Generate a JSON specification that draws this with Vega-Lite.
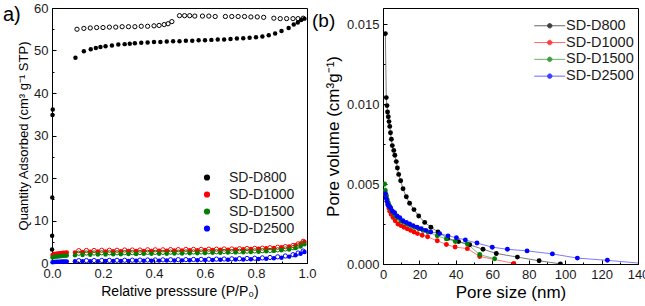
{
  "$schema": "https://vega.github.io/schema/vega-lite/v6.json",
  "padding": {"left": 2, "top": 1, "right": 0, "bottom": 0},
  "bounds": "flush",
  "spacing": 76,
  "config": {
    "font": "Liberation Sans",
    "view": {"stroke": "black", "strokeWidth": 1},
    "axis": {
      "grid": false,
      "domainColor": "black",
      "domainWidth": 1,
      "tickColor": "black",
      "tickWidth": 1,
      "tickSize": -4,
      "labelPadding": 8,
      "labelFlush": false,
      "labelOverlap": false,
      "labelColor": "#1a1a1a",
      "labelFontSize": 13,
      "titleColor": "black",
      "titleFontWeight": "normal"
    },
    "legend": {"labelColor": "#1a1a1a", "padding": 0}
  },
  "resolve": {"scale": {"color": "independent"}, "legend": {"color": "independent"}},
  "datasets": {
    "iso": [
      {"s": "SD-D800", "b": "ads", "p": 0.0002, "q": 3.2},
      {"s": "SD-D800", "b": "ads", "p": 0.0005, "q": 6.4},
      {"s": "SD-D800", "b": "ads", "p": 0.001, "q": 15.4},
      {"s": "SD-D800", "b": "ads", "p": 0.002, "q": 34.8},
      {"s": "SD-D800", "b": "ads", "p": 0.003, "q": 36.1},
      {"s": "SD-D800", "b": "ads", "p": 0.092, "q": 48.3},
      {"s": "SD-D800", "b": "ads", "p": 0.125, "q": 49.8},
      {"s": "SD-D800", "b": "ads", "p": 0.152, "q": 50.3},
      {"s": "SD-D800", "b": "ads", "p": 0.172, "q": 50.6},
      {"s": "SD-D800", "b": "ads", "p": 0.19, "q": 50.8},
      {"s": "SD-D800", "b": "ads", "p": 0.21, "q": 51.0},
      {"s": "SD-D800", "b": "ads", "p": 0.235, "q": 51.2},
      {"s": "SD-D800", "b": "ads", "p": 0.26, "q": 51.4},
      {"s": "SD-D800", "b": "ads", "p": 0.285, "q": 51.5},
      {"s": "SD-D800", "b": "ads", "p": 0.305, "q": 51.6},
      {"s": "SD-D800", "b": "ads", "p": 0.325, "q": 51.7},
      {"s": "SD-D800", "b": "ads", "p": 0.35, "q": 51.8},
      {"s": "SD-D800", "b": "ads", "p": 0.375, "q": 51.9},
      {"s": "SD-D800", "b": "ads", "p": 0.4, "q": 52.0},
      {"s": "SD-D800", "b": "ads", "p": 0.425, "q": 52.0},
      {"s": "SD-D800", "b": "ads", "p": 0.45, "q": 52.1},
      {"s": "SD-D800", "b": "ads", "p": 0.475, "q": 52.2},
      {"s": "SD-D800", "b": "ads", "p": 0.5, "q": 52.2},
      {"s": "SD-D800", "b": "ads", "p": 0.525, "q": 52.3},
      {"s": "SD-D800", "b": "ads", "p": 0.55, "q": 52.3},
      {"s": "SD-D800", "b": "ads", "p": 0.575, "q": 52.4},
      {"s": "SD-D800", "b": "ads", "p": 0.6, "q": 52.4},
      {"s": "SD-D800", "b": "ads", "p": 0.625, "q": 52.5},
      {"s": "SD-D800", "b": "ads", "p": 0.65, "q": 52.6},
      {"s": "SD-D800", "b": "ads", "p": 0.675, "q": 52.6},
      {"s": "SD-D800", "b": "ads", "p": 0.7, "q": 52.7},
      {"s": "SD-D800", "b": "ads", "p": 0.725, "q": 52.8},
      {"s": "SD-D800", "b": "ads", "p": 0.75, "q": 52.9},
      {"s": "SD-D800", "b": "ads", "p": 0.775, "q": 53.0},
      {"s": "SD-D800", "b": "ads", "p": 0.8, "q": 53.1},
      {"s": "SD-D800", "b": "ads", "p": 0.825, "q": 53.3},
      {"s": "SD-D800", "b": "ads", "p": 0.85, "q": 53.6},
      {"s": "SD-D800", "b": "ads", "p": 0.875, "q": 54.0},
      {"s": "SD-D800", "b": "ads", "p": 0.9, "q": 54.6},
      {"s": "SD-D800", "b": "ads", "p": 0.928, "q": 55.3},
      {"s": "SD-D800", "b": "ads", "p": 0.948, "q": 56.1},
      {"s": "SD-D800", "b": "ads", "p": 0.964, "q": 56.6},
      {"s": "SD-D800", "b": "ads", "p": 0.977, "q": 57.2},
      {"s": "SD-D800", "b": "ads", "p": 0.99, "q": 57.5},
      {"s": "SD-D800", "b": "des", "p": 0.098, "q": 55.0},
      {"s": "SD-D800", "b": "des", "p": 0.125, "q": 55.2},
      {"s": "SD-D800", "b": "des", "p": 0.15, "q": 55.3},
      {"s": "SD-D800", "b": "des", "p": 0.175, "q": 55.4},
      {"s": "SD-D800", "b": "des", "p": 0.2, "q": 55.4},
      {"s": "SD-D800", "b": "des", "p": 0.225, "q": 55.5},
      {"s": "SD-D800", "b": "des", "p": 0.25, "q": 55.5},
      {"s": "SD-D800", "b": "des", "p": 0.275, "q": 55.6},
      {"s": "SD-D800", "b": "des", "p": 0.3, "q": 55.6},
      {"s": "SD-D800", "b": "des", "p": 0.325, "q": 55.6},
      {"s": "SD-D800", "b": "des", "p": 0.35, "q": 55.7},
      {"s": "SD-D800", "b": "des", "p": 0.375, "q": 55.7},
      {"s": "SD-D800", "b": "des", "p": 0.4, "q": 55.8},
      {"s": "SD-D800", "b": "des", "p": 0.42, "q": 55.9},
      {"s": "SD-D800", "b": "des", "p": 0.44, "q": 56.1},
      {"s": "SD-D800", "b": "des", "p": 0.455, "q": 56.3},
      {"s": "SD-D800", "b": "des", "p": 0.47, "q": 56.8},
      {"s": "SD-D800", "b": "des", "p": 0.5, "q": 58.2},
      {"s": "SD-D800", "b": "des", "p": 0.52, "q": 58.2},
      {"s": "SD-D800", "b": "des", "p": 0.54, "q": 58.2},
      {"s": "SD-D800", "b": "des", "p": 0.56, "q": 58.1},
      {"s": "SD-D800", "b": "des", "p": 0.59, "q": 58.1},
      {"s": "SD-D800", "b": "des", "p": 0.615, "q": 58.1},
      {"s": "SD-D800", "b": "des", "p": 0.64, "q": 58.0},
      {"s": "SD-D800", "b": "des", "p": 0.68, "q": 58.0},
      {"s": "SD-D800", "b": "des", "p": 0.705, "q": 58.0},
      {"s": "SD-D800", "b": "des", "p": 0.73, "q": 58.0},
      {"s": "SD-D800", "b": "des", "p": 0.755, "q": 58.0},
      {"s": "SD-D800", "b": "des", "p": 0.78, "q": 57.9},
      {"s": "SD-D800", "b": "des", "p": 0.805, "q": 57.9},
      {"s": "SD-D800", "b": "des", "p": 0.83, "q": 57.8},
      {"s": "SD-D800", "b": "des", "p": 0.87, "q": 57.6},
      {"s": "SD-D800", "b": "des", "p": 0.895, "q": 57.5},
      {"s": "SD-D800", "b": "des", "p": 0.92, "q": 57.5},
      {"s": "SD-D800", "b": "des", "p": 0.945, "q": 57.5},
      {"s": "SD-D800", "b": "des", "p": 0.965, "q": 57.5},
      {"s": "SD-D800", "b": "des", "p": 0.985, "q": 57.6},

      {"s": "SD-D1000", "b": "ads", "p": 0.002, "q": 1.9},
      {"s": "SD-D1000", "b": "ads", "p": 0.009, "q": 2.1},
      {"s": "SD-D1000", "b": "ads", "p": 0.016, "q": 2.2},
      {"s": "SD-D1000", "b": "ads", "p": 0.023, "q": 2.25},
      {"s": "SD-D1000", "b": "ads", "p": 0.03, "q": 2.3},
      {"s": "SD-D1000", "b": "ads", "p": 0.037, "q": 2.35},
      {"s": "SD-D1000", "b": "ads", "p": 0.044, "q": 2.4},
      {"s": "SD-D1000", "b": "ads", "p": 0.051, "q": 2.4},
      {"s": "SD-D1000", "b": "ads", "p": 0.058, "q": 2.45},
      {"s": "SD-D1000", "b": "ads", "p": 0.09, "q": 2.5},
      {"s": "SD-D1000", "b": "ads", "p": 0.12, "q": 2.6},
      {"s": "SD-D1000", "b": "ads", "p": 0.15, "q": 2.65},
      {"s": "SD-D1000", "b": "ads", "p": 0.18, "q": 2.7},
      {"s": "SD-D1000", "b": "ads", "p": 0.21, "q": 2.7},
      {"s": "SD-D1000", "b": "ads", "p": 0.24, "q": 2.75},
      {"s": "SD-D1000", "b": "ads", "p": 0.27, "q": 2.75},
      {"s": "SD-D1000", "b": "ads", "p": 0.3, "q": 2.8},
      {"s": "SD-D1000", "b": "ads", "p": 0.33, "q": 2.8},
      {"s": "SD-D1000", "b": "ads", "p": 0.36, "q": 2.85},
      {"s": "SD-D1000", "b": "ads", "p": 0.39, "q": 2.85},
      {"s": "SD-D1000", "b": "ads", "p": 0.42, "q": 2.9},
      {"s": "SD-D1000", "b": "ads", "p": 0.45, "q": 2.9},
      {"s": "SD-D1000", "b": "ads", "p": 0.48, "q": 2.95},
      {"s": "SD-D1000", "b": "ads", "p": 0.51, "q": 2.95},
      {"s": "SD-D1000", "b": "ads", "p": 0.54, "q": 3.0},
      {"s": "SD-D1000", "b": "ads", "p": 0.57, "q": 3.0},
      {"s": "SD-D1000", "b": "ads", "p": 0.6, "q": 3.05},
      {"s": "SD-D1000", "b": "ads", "p": 0.63, "q": 3.05},
      {"s": "SD-D1000", "b": "ads", "p": 0.66, "q": 3.1},
      {"s": "SD-D1000", "b": "ads", "p": 0.69, "q": 3.15},
      {"s": "SD-D1000", "b": "ads", "p": 0.72, "q": 3.2},
      {"s": "SD-D1000", "b": "ads", "p": 0.75, "q": 3.25},
      {"s": "SD-D1000", "b": "ads", "p": 0.78, "q": 3.3},
      {"s": "SD-D1000", "b": "ads", "p": 0.81, "q": 3.35},
      {"s": "SD-D1000", "b": "ads", "p": 0.84, "q": 3.45},
      {"s": "SD-D1000", "b": "ads", "p": 0.87, "q": 3.55},
      {"s": "SD-D1000", "b": "ads", "p": 0.9, "q": 3.7},
      {"s": "SD-D1000", "b": "ads", "p": 0.93, "q": 3.9},
      {"s": "SD-D1000", "b": "ads", "p": 0.955, "q": 4.2},
      {"s": "SD-D1000", "b": "ads", "p": 0.975, "q": 4.6},
      {"s": "SD-D1000", "b": "ads", "p": 0.99, "q": 5.0},
      {"s": "SD-D1000", "b": "des", "p": 0.105, "q": 2.9},
      {"s": "SD-D1000", "b": "des", "p": 0.135, "q": 2.95},
      {"s": "SD-D1000", "b": "des", "p": 0.165, "q": 2.95},
      {"s": "SD-D1000", "b": "des", "p": 0.195, "q": 3.0},
      {"s": "SD-D1000", "b": "des", "p": 0.225, "q": 3.0},
      {"s": "SD-D1000", "b": "des", "p": 0.255, "q": 3.0},
      {"s": "SD-D1000", "b": "des", "p": 0.285, "q": 3.05},
      {"s": "SD-D1000", "b": "des", "p": 0.315, "q": 3.05},
      {"s": "SD-D1000", "b": "des", "p": 0.345, "q": 3.05},
      {"s": "SD-D1000", "b": "des", "p": 0.375, "q": 3.1},
      {"s": "SD-D1000", "b": "des", "p": 0.405, "q": 3.1},
      {"s": "SD-D1000", "b": "des", "p": 0.435, "q": 3.1},
      {"s": "SD-D1000", "b": "des", "p": 0.465, "q": 3.15},
      {"s": "SD-D1000", "b": "des", "p": 0.495, "q": 3.15},
      {"s": "SD-D1000", "b": "des", "p": 0.525, "q": 3.2},
      {"s": "SD-D1000", "b": "des", "p": 0.555, "q": 3.2},
      {"s": "SD-D1000", "b": "des", "p": 0.585, "q": 3.2},
      {"s": "SD-D1000", "b": "des", "p": 0.615, "q": 3.25},
      {"s": "SD-D1000", "b": "des", "p": 0.645, "q": 3.25},
      {"s": "SD-D1000", "b": "des", "p": 0.675, "q": 3.3},
      {"s": "SD-D1000", "b": "des", "p": 0.705, "q": 3.3},
      {"s": "SD-D1000", "b": "des", "p": 0.735, "q": 3.35},
      {"s": "SD-D1000", "b": "des", "p": 0.765, "q": 3.4},
      {"s": "SD-D1000", "b": "des", "p": 0.795, "q": 3.45},
      {"s": "SD-D1000", "b": "des", "p": 0.825, "q": 3.5},
      {"s": "SD-D1000", "b": "des", "p": 0.855, "q": 3.6},
      {"s": "SD-D1000", "b": "des", "p": 0.885, "q": 3.7},
      {"s": "SD-D1000", "b": "des", "p": 0.915, "q": 3.85},
      {"s": "SD-D1000", "b": "des", "p": 0.945, "q": 4.1},
      {"s": "SD-D1000", "b": "des", "p": 0.965, "q": 4.5},
      {"s": "SD-D1000", "b": "des", "p": 0.985, "q": 5.1},

      {"s": "SD-D1500", "b": "ads", "p": 0.002, "q": 1.3},
      {"s": "SD-D1500", "b": "ads", "p": 0.009, "q": 1.45},
      {"s": "SD-D1500", "b": "ads", "p": 0.016, "q": 1.5},
      {"s": "SD-D1500", "b": "ads", "p": 0.023, "q": 1.55},
      {"s": "SD-D1500", "b": "ads", "p": 0.03, "q": 1.6},
      {"s": "SD-D1500", "b": "ads", "p": 0.037, "q": 1.65},
      {"s": "SD-D1500", "b": "ads", "p": 0.044, "q": 1.7},
      {"s": "SD-D1500", "b": "ads", "p": 0.051, "q": 1.7},
      {"s": "SD-D1500", "b": "ads", "p": 0.058, "q": 1.75},
      {"s": "SD-D1500", "b": "ads", "p": 0.09, "q": 1.8},
      {"s": "SD-D1500", "b": "ads", "p": 0.12, "q": 1.9},
      {"s": "SD-D1500", "b": "ads", "p": 0.15, "q": 1.95},
      {"s": "SD-D1500", "b": "ads", "p": 0.18, "q": 2.0},
      {"s": "SD-D1500", "b": "ads", "p": 0.21, "q": 2.0},
      {"s": "SD-D1500", "b": "ads", "p": 0.24, "q": 2.05},
      {"s": "SD-D1500", "b": "ads", "p": 0.27, "q": 2.05},
      {"s": "SD-D1500", "b": "ads", "p": 0.3, "q": 2.1},
      {"s": "SD-D1500", "b": "ads", "p": 0.33, "q": 2.1},
      {"s": "SD-D1500", "b": "ads", "p": 0.36, "q": 2.15},
      {"s": "SD-D1500", "b": "ads", "p": 0.39, "q": 2.15},
      {"s": "SD-D1500", "b": "ads", "p": 0.42, "q": 2.2},
      {"s": "SD-D1500", "b": "ads", "p": 0.45, "q": 2.2},
      {"s": "SD-D1500", "b": "ads", "p": 0.48, "q": 2.25},
      {"s": "SD-D1500", "b": "ads", "p": 0.51, "q": 2.25},
      {"s": "SD-D1500", "b": "ads", "p": 0.54, "q": 2.3},
      {"s": "SD-D1500", "b": "ads", "p": 0.57, "q": 2.3},
      {"s": "SD-D1500", "b": "ads", "p": 0.6, "q": 2.35},
      {"s": "SD-D1500", "b": "ads", "p": 0.63, "q": 2.4},
      {"s": "SD-D1500", "b": "ads", "p": 0.66, "q": 2.4},
      {"s": "SD-D1500", "b": "ads", "p": 0.69, "q": 2.45},
      {"s": "SD-D1500", "b": "ads", "p": 0.72, "q": 2.5},
      {"s": "SD-D1500", "b": "ads", "p": 0.75, "q": 2.55},
      {"s": "SD-D1500", "b": "ads", "p": 0.78, "q": 2.6},
      {"s": "SD-D1500", "b": "ads", "p": 0.81, "q": 2.65},
      {"s": "SD-D1500", "b": "ads", "p": 0.84, "q": 2.75},
      {"s": "SD-D1500", "b": "ads", "p": 0.87, "q": 2.85},
      {"s": "SD-D1500", "b": "ads", "p": 0.9, "q": 3.0},
      {"s": "SD-D1500", "b": "ads", "p": 0.93, "q": 3.2},
      {"s": "SD-D1500", "b": "ads", "p": 0.955, "q": 3.5},
      {"s": "SD-D1500", "b": "ads", "p": 0.975, "q": 3.9},
      {"s": "SD-D1500", "b": "ads", "p": 0.99, "q": 4.4},
      {"s": "SD-D1500", "b": "des", "p": 0.105, "q": 2.3},
      {"s": "SD-D1500", "b": "des", "p": 0.135, "q": 2.35},
      {"s": "SD-D1500", "b": "des", "p": 0.165, "q": 2.35},
      {"s": "SD-D1500", "b": "des", "p": 0.195, "q": 2.4},
      {"s": "SD-D1500", "b": "des", "p": 0.225, "q": 2.4},
      {"s": "SD-D1500", "b": "des", "p": 0.255, "q": 2.4},
      {"s": "SD-D1500", "b": "des", "p": 0.285, "q": 2.45},
      {"s": "SD-D1500", "b": "des", "p": 0.315, "q": 2.45},
      {"s": "SD-D1500", "b": "des", "p": 0.345, "q": 2.45},
      {"s": "SD-D1500", "b": "des", "p": 0.375, "q": 2.5},
      {"s": "SD-D1500", "b": "des", "p": 0.405, "q": 2.5},
      {"s": "SD-D1500", "b": "des", "p": 0.435, "q": 2.5},
      {"s": "SD-D1500", "b": "des", "p": 0.465, "q": 2.55},
      {"s": "SD-D1500", "b": "des", "p": 0.495, "q": 2.55},
      {"s": "SD-D1500", "b": "des", "p": 0.525, "q": 2.6},
      {"s": "SD-D1500", "b": "des", "p": 0.555, "q": 2.6},
      {"s": "SD-D1500", "b": "des", "p": 0.585, "q": 2.6},
      {"s": "SD-D1500", "b": "des", "p": 0.615, "q": 2.65},
      {"s": "SD-D1500", "b": "des", "p": 0.645, "q": 2.65},
      {"s": "SD-D1500", "b": "des", "p": 0.675, "q": 2.7},
      {"s": "SD-D1500", "b": "des", "p": 0.705, "q": 2.7},
      {"s": "SD-D1500", "b": "des", "p": 0.735, "q": 2.75},
      {"s": "SD-D1500", "b": "des", "p": 0.765, "q": 2.8},
      {"s": "SD-D1500", "b": "des", "p": 0.795, "q": 2.85},
      {"s": "SD-D1500", "b": "des", "p": 0.825, "q": 2.9},
      {"s": "SD-D1500", "b": "des", "p": 0.855, "q": 2.95},
      {"s": "SD-D1500", "b": "des", "p": 0.885, "q": 3.1},
      {"s": "SD-D1500", "b": "des", "p": 0.915, "q": 3.3},
      {"s": "SD-D1500", "b": "des", "p": 0.945, "q": 3.6},
      {"s": "SD-D1500", "b": "des", "p": 0.965, "q": 4.0},
      {"s": "SD-D1500", "b": "des", "p": 0.985, "q": 4.6},

      {"s": "SD-D2500", "b": "ads", "p": 0.002, "q": 0.2},
      {"s": "SD-D2500", "b": "ads", "p": 0.009, "q": 0.25},
      {"s": "SD-D2500", "b": "ads", "p": 0.016, "q": 0.3},
      {"s": "SD-D2500", "b": "ads", "p": 0.023, "q": 0.3},
      {"s": "SD-D2500", "b": "ads", "p": 0.03, "q": 0.3},
      {"s": "SD-D2500", "b": "ads", "p": 0.037, "q": 0.35},
      {"s": "SD-D2500", "b": "ads", "p": 0.044, "q": 0.35},
      {"s": "SD-D2500", "b": "ads", "p": 0.051, "q": 0.35},
      {"s": "SD-D2500", "b": "ads", "p": 0.058, "q": 0.35},
      {"s": "SD-D2500", "b": "ads", "p": 0.09, "q": 0.4},
      {"s": "SD-D2500", "b": "ads", "p": 0.12, "q": 0.4},
      {"s": "SD-D2500", "b": "ads", "p": 0.15, "q": 0.42},
      {"s": "SD-D2500", "b": "ads", "p": 0.18, "q": 0.44},
      {"s": "SD-D2500", "b": "ads", "p": 0.21, "q": 0.45},
      {"s": "SD-D2500", "b": "ads", "p": 0.24, "q": 0.46},
      {"s": "SD-D2500", "b": "ads", "p": 0.27, "q": 0.48},
      {"s": "SD-D2500", "b": "ads", "p": 0.3, "q": 0.5},
      {"s": "SD-D2500", "b": "ads", "p": 0.33, "q": 0.52},
      {"s": "SD-D2500", "b": "ads", "p": 0.36, "q": 0.53},
      {"s": "SD-D2500", "b": "ads", "p": 0.39, "q": 0.55},
      {"s": "SD-D2500", "b": "ads", "p": 0.42, "q": 0.56},
      {"s": "SD-D2500", "b": "ads", "p": 0.45, "q": 0.58},
      {"s": "SD-D2500", "b": "ads", "p": 0.48, "q": 0.6},
      {"s": "SD-D2500", "b": "ads", "p": 0.51, "q": 0.62},
      {"s": "SD-D2500", "b": "ads", "p": 0.54, "q": 0.64},
      {"s": "SD-D2500", "b": "ads", "p": 0.57, "q": 0.66},
      {"s": "SD-D2500", "b": "ads", "p": 0.6, "q": 0.68},
      {"s": "SD-D2500", "b": "ads", "p": 0.63, "q": 0.71},
      {"s": "SD-D2500", "b": "ads", "p": 0.66, "q": 0.74},
      {"s": "SD-D2500", "b": "ads", "p": 0.69, "q": 0.77},
      {"s": "SD-D2500", "b": "ads", "p": 0.72, "q": 0.8},
      {"s": "SD-D2500", "b": "ads", "p": 0.75, "q": 0.84},
      {"s": "SD-D2500", "b": "ads", "p": 0.78, "q": 0.88},
      {"s": "SD-D2500", "b": "ads", "p": 0.81, "q": 0.93},
      {"s": "SD-D2500", "b": "ads", "p": 0.84, "q": 1.0},
      {"s": "SD-D2500", "b": "ads", "p": 0.87, "q": 1.1},
      {"s": "SD-D2500", "b": "ads", "p": 0.9, "q": 1.25},
      {"s": "SD-D2500", "b": "ads", "p": 0.93, "q": 1.5},
      {"s": "SD-D2500", "b": "ads", "p": 0.955, "q": 1.8},
      {"s": "SD-D2500", "b": "ads", "p": 0.975, "q": 2.2},
      {"s": "SD-D2500", "b": "ads", "p": 0.99, "q": 2.6},
      {"s": "SD-D2500", "b": "des", "p": 0.105, "q": 0.55},
      {"s": "SD-D2500", "b": "des", "p": 0.135, "q": 0.57},
      {"s": "SD-D2500", "b": "des", "p": 0.165, "q": 0.58},
      {"s": "SD-D2500", "b": "des", "p": 0.195, "q": 0.6},
      {"s": "SD-D2500", "b": "des", "p": 0.225, "q": 0.61},
      {"s": "SD-D2500", "b": "des", "p": 0.255, "q": 0.63},
      {"s": "SD-D2500", "b": "des", "p": 0.285, "q": 0.65},
      {"s": "SD-D2500", "b": "des", "p": 0.315, "q": 0.66},
      {"s": "SD-D2500", "b": "des", "p": 0.345, "q": 0.68},
      {"s": "SD-D2500", "b": "des", "p": 0.375, "q": 0.7},
      {"s": "SD-D2500", "b": "des", "p": 0.405, "q": 0.72},
      {"s": "SD-D2500", "b": "des", "p": 0.435, "q": 0.74},
      {"s": "SD-D2500", "b": "des", "p": 0.465, "q": 0.76},
      {"s": "SD-D2500", "b": "des", "p": 0.495, "q": 0.78},
      {"s": "SD-D2500", "b": "des", "p": 0.525, "q": 0.8},
      {"s": "SD-D2500", "b": "des", "p": 0.555, "q": 0.83},
      {"s": "SD-D2500", "b": "des", "p": 0.585, "q": 0.85},
      {"s": "SD-D2500", "b": "des", "p": 0.615, "q": 0.88},
      {"s": "SD-D2500", "b": "des", "p": 0.645, "q": 0.91},
      {"s": "SD-D2500", "b": "des", "p": 0.675, "q": 0.94},
      {"s": "SD-D2500", "b": "des", "p": 0.705, "q": 0.98},
      {"s": "SD-D2500", "b": "des", "p": 0.735, "q": 1.02},
      {"s": "SD-D2500", "b": "des", "p": 0.765, "q": 1.07},
      {"s": "SD-D2500", "b": "des", "p": 0.795, "q": 1.12},
      {"s": "SD-D2500", "b": "des", "p": 0.825, "q": 1.2},
      {"s": "SD-D2500", "b": "des", "p": 0.855, "q": 1.3},
      {"s": "SD-D2500", "b": "des", "p": 0.885, "q": 1.45},
      {"s": "SD-D2500", "b": "des", "p": 0.915, "q": 1.65},
      {"s": "SD-D2500", "b": "des", "p": 0.945, "q": 1.95},
      {"s": "SD-D2500", "b": "des", "p": 0.965, "q": 2.35},
      {"s": "SD-D2500", "b": "des", "p": 0.985, "q": 2.8}
    ],
    "psd": [
      {"s": "SD-D800", "d": 1.3, "v": 0.0144},
      {"s": "SD-D800", "d": 1.8, "v": 0.0104},
      {"s": "SD-D800", "d": 2.2, "v": 0.0099},
      {"s": "SD-D800", "d": 2.5, "v": 0.0095},
      {"s": "SD-D800", "d": 2.9, "v": 0.0092},
      {"s": "SD-D800", "d": 3.3, "v": 0.0089},
      {"s": "SD-D800", "d": 3.7, "v": 0.0086},
      {"s": "SD-D800", "d": 4.1, "v": 0.0082},
      {"s": "SD-D800", "d": 4.6, "v": 0.0078},
      {"s": "SD-D800", "d": 5.1, "v": 0.0074},
      {"s": "SD-D800", "d": 5.9, "v": 0.0071},
      {"s": "SD-D800", "d": 6.5, "v": 0.0068},
      {"s": "SD-D800", "d": 7.3, "v": 0.0064},
      {"s": "SD-D800", "d": 7.9, "v": 0.006},
      {"s": "SD-D800", "d": 8.6, "v": 0.0056},
      {"s": "SD-D800", "d": 9.7, "v": 0.0052},
      {"s": "SD-D800", "d": 11.0, "v": 0.0047},
      {"s": "SD-D800", "d": 12.8, "v": 0.0042},
      {"s": "SD-D800", "d": 14.6, "v": 0.0038},
      {"s": "SD-D800", "d": 17.0, "v": 0.0034},
      {"s": "SD-D800", "d": 19.6, "v": 0.003},
      {"s": "SD-D800", "d": 22.9, "v": 0.0026},
      {"s": "SD-D800", "d": 26.3, "v": 0.0023},
      {"s": "SD-D800", "d": 30.2, "v": 0.002},
      {"s": "SD-D800", "d": 35.5, "v": 0.0016},
      {"s": "SD-D800", "d": 41.5, "v": 0.0014},
      {"s": "SD-D800", "d": 47.6, "v": 0.0012},
      {"s": "SD-D800", "d": 54.9, "v": 0.00092},
      {"s": "SD-D800", "d": 62.2, "v": 0.00066},
      {"s": "SD-D800", "d": 73.8, "v": 0.00043},
      {"s": "SD-D800", "d": 85.7, "v": 0.0002},
      {"s": "SD-D800", "d": 97.4, "v": 0.00001},
      {"s": "SD-D1000", "d": 1.3, "v": 0.0044},
      {"s": "SD-D1000", "d": 1.8, "v": 0.0042},
      {"s": "SD-D1000", "d": 2.2, "v": 0.0039},
      {"s": "SD-D1000", "d": 2.7, "v": 0.0037},
      {"s": "SD-D1000", "d": 3.2, "v": 0.0035},
      {"s": "SD-D1000", "d": 3.7, "v": 0.0033},
      {"s": "SD-D1000", "d": 4.5, "v": 0.0031},
      {"s": "SD-D1000", "d": 5.5, "v": 0.0029},
      {"s": "SD-D1000", "d": 6.7, "v": 0.0027},
      {"s": "SD-D1000", "d": 8.2, "v": 0.0025},
      {"s": "SD-D1000", "d": 9.8, "v": 0.0024},
      {"s": "SD-D1000", "d": 11.5, "v": 0.0023},
      {"s": "SD-D1000", "d": 13.3, "v": 0.0022},
      {"s": "SD-D1000", "d": 15.2, "v": 0.0021},
      {"s": "SD-D1000", "d": 17.0, "v": 0.002},
      {"s": "SD-D1000", "d": 18.9, "v": 0.0019},
      {"s": "SD-D1000", "d": 21.5, "v": 0.0018},
      {"s": "SD-D1000", "d": 24.5, "v": 0.0017},
      {"s": "SD-D1000", "d": 29.8, "v": 0.00145},
      {"s": "SD-D1000", "d": 34.8, "v": 0.00122},
      {"s": "SD-D1000", "d": 39.6, "v": 0.00106},
      {"s": "SD-D1000", "d": 46.3, "v": 0.00096},
      {"s": "SD-D1000", "d": 53.1, "v": 0.00047},
      {"s": "SD-D1000", "d": 71.8, "v": 0.00004},
      {"s": "SD-D1500", "d": 0.9, "v": 0.005},
      {"s": "SD-D1500", "d": 1.3, "v": 0.0046},
      {"s": "SD-D1500", "d": 1.8, "v": 0.0043},
      {"s": "SD-D1500", "d": 2.4, "v": 0.004},
      {"s": "SD-D1500", "d": 3.0, "v": 0.0038},
      {"s": "SD-D1500", "d": 3.7, "v": 0.0036},
      {"s": "SD-D1500", "d": 4.5, "v": 0.0034},
      {"s": "SD-D1500", "d": 5.5, "v": 0.0032},
      {"s": "SD-D1500", "d": 6.8, "v": 0.003},
      {"s": "SD-D1500", "d": 8.2, "v": 0.0029},
      {"s": "SD-D1500", "d": 9.8, "v": 0.0027},
      {"s": "SD-D1500", "d": 11.5, "v": 0.0026},
      {"s": "SD-D1500", "d": 13.3, "v": 0.0025},
      {"s": "SD-D1500", "d": 15.2, "v": 0.0024},
      {"s": "SD-D1500", "d": 17.3, "v": 0.0023},
      {"s": "SD-D1500", "d": 19.6, "v": 0.0022},
      {"s": "SD-D1500", "d": 22.0, "v": 0.0021},
      {"s": "SD-D1500", "d": 24.7, "v": 0.002},
      {"s": "SD-D1500", "d": 29.8, "v": 0.00176},
      {"s": "SD-D1500", "d": 34.8, "v": 0.00157},
      {"s": "SD-D1500", "d": 39.7, "v": 0.00141},
      {"s": "SD-D1500", "d": 46.3, "v": 0.00125},
      {"s": "SD-D1500", "d": 53.1, "v": 0.00059},
      {"s": "SD-D1500", "d": 61.3, "v": 0.00033},
      {"s": "SD-D2500", "d": 1.3, "v": 0.0044},
      {"s": "SD-D2500", "d": 1.8, "v": 0.0041},
      {"s": "SD-D2500", "d": 2.2, "v": 0.0039},
      {"s": "SD-D2500", "d": 2.7, "v": 0.0037},
      {"s": "SD-D2500", "d": 3.4, "v": 0.0036},
      {"s": "SD-D2500", "d": 4.2, "v": 0.0035},
      {"s": "SD-D2500", "d": 5.2, "v": 0.0033},
      {"s": "SD-D2500", "d": 6.4, "v": 0.0032},
      {"s": "SD-D2500", "d": 7.7, "v": 0.003},
      {"s": "SD-D2500", "d": 9.2, "v": 0.0029},
      {"s": "SD-D2500", "d": 10.9, "v": 0.0027},
      {"s": "SD-D2500", "d": 12.8, "v": 0.0026},
      {"s": "SD-D2500", "d": 14.6, "v": 0.0025},
      {"s": "SD-D2500", "d": 16.5, "v": 0.0024},
      {"s": "SD-D2500", "d": 18.7, "v": 0.0023},
      {"s": "SD-D2500", "d": 21.0, "v": 0.0022},
      {"s": "SD-D2500", "d": 23.5, "v": 0.0021},
      {"s": "SD-D2500", "d": 26.2, "v": 0.002},
      {"s": "SD-D2500", "d": 31.1, "v": 0.0019},
      {"s": "SD-D2500", "d": 35.7, "v": 0.00176},
      {"s": "SD-D2500", "d": 40.3, "v": 0.00164},
      {"s": "SD-D2500", "d": 45.2, "v": 0.0015},
      {"s": "SD-D2500", "d": 51.6, "v": 0.00131},
      {"s": "SD-D2500", "d": 60.0, "v": 0.00105},
      {"s": "SD-D2500", "d": 68.3, "v": 0.00092},
      {"s": "SD-D2500", "d": 79.1, "v": 0.00082},
      {"s": "SD-D2500", "d": 93.0, "v": 0.00063},
      {"s": "SD-D2500", "d": 106.7, "v": 0.00037},
      {"s": "SD-D2500", "d": 123.2, "v": 0.00023},
      {"s": "SD-D2500", "d": 146.0, "v": 0.0}
    ]
  },
  "hconcat": [
    {
      "width": 255,
      "height": 255,
      "title": {"text": "a)", "anchor": "start", "frame": "group", "baseline": "top", "offset": -23, "dx": -49, "fontSize": 20, "fontWeight": "normal", "color": "black"},
      "data": {"name": "iso"},
      "resolve": {"axis": {"x": "independent", "y": "independent"}},
      "layer": [
        {
          "transform": [{"filter": "datum.b === 'ads'"}],
          "mark": {"type": "point", "filled": true, "size": 20, "opacity": 1},
          "encoding": {
            "x": {"field": "p", "type": "quantitative", "scale": {"domain": [0, 1]},
              "axis": {"orient": "bottom", "values": [0, 0.2, 0.4, 0.6, 0.8, 1.0], "format": ".1f", "title": "Relative presssure (P/P₀)", "titleFontSize": 14, "titlePadding": 4}},
            "y": {"field": "q", "type": "quantitative", "scale": {"domain": [0, 60]},
              "axis": {"orient": "left", "values": [0, 10, 20, 30, 40, 50, 60], "title": "Quantity Adsorbed (cm³ g⁻¹ STP)", "titleFontSize": 13, "titlePadding": 3}},
            "color": {"field": "s", "type": "nominal",
              "scale": {"domain": ["SD-D800", "SD-D1000", "SD-D1500", "SD-D2500"], "range": ["#000000", "#ff0000", "#008000", "#0000ff"]},
              "legend": {"title": null, "orient": "none", "legendX": 148, "legendY": 162.5, "symbolType": "circle", "symbolSize": 22, "labelFontSize": 14, "labelOffset": 15, "rowPadding": 3}}
          }
        },
        {
          "transform": [{"filter": "datum.b === 'des'"}],
          "mark": {"type": "point", "filled": false, "size": 18, "strokeWidth": 1, "opacity": 1},
          "encoding": {
            "x": {"field": "p", "type": "quantitative",
              "axis": {"orient": "bottom", "values": [0.1, 0.3, 0.5, 0.7, 0.9], "labels": false, "domain": false, "tickSize": -2, "title": null}},
            "y": {"field": "q", "type": "quantitative",
              "axis": {"orient": "left", "values": [5, 15, 25, 35, 45, 55], "labels": false, "domain": false, "tickSize": -2, "title": null}},
            "color": {"field": "s", "type": "nominal", "legend": null}
          }
        }
      ]
    },
    {
      "width": 255,
      "height": 256,
      "title": {"text": "(b)", "anchor": "start", "frame": "group", "baseline": "top", "offset": -23, "dx": -71, "fontSize": 19, "fontWeight": "normal", "color": "black"},
      "data": {"name": "psd"},
      "resolve": {"axis": {"x": "independent", "y": "independent"}},
      "layer": [
        {
          "mark": {"type": "line", "strokeWidth": 0.7, "opacity": 0.75, "clip": true},
          "encoding": {
            "x": {"field": "d", "type": "quantitative", "scale": {"domain": [0, 140]},
              "axis": {"orient": "bottom", "values": [0, 20, 40, 60, 80, 100, 120, 140], "title": "Pore size (nm)", "titleFontSize": 17, "titlePadding": 3}},
            "y": {"field": "v", "type": "quantitative", "scale": {"domain": [0, 0.015]},
              "axis": {"orient": "left", "values": [0, 0.005, 0.01, 0.015], "format": ".3f", "title": "Pore volume (cm³g⁻¹)", "titleFontSize": 17, "titlePadding": 4}},
            "color": {"field": "s", "type": "nominal",
              "scale": {"domain": ["SD-D800", "SD-D1000", "SD-D1500", "SD-D2500"], "range": ["#000000", "#ff0000", "#008000", "#0000ff"]},
              "legend": {"title": null, "orient": "none", "legendX": 159.5, "legendY": 10.5, "symbolType": "M-3.1,0H3.1M0.46,0A0.46,0.46,0,1,1,-0.46,0A0.46,0.46,0,1,1,0.46,0Z", "symbolSize": 100, "symbolStrokeWidth": 0.8, "labelFontSize": 14.5, "labelOffset": 9, "rowPadding": 1.8,
                "encode": {"symbols": {"update": {"fill": {"signal": "scale('concat_1_color', datum.value)"}, "opacity": {"value": 1}}}}}
            }
          }
        },
        {
          "mark": {"type": "point", "filled": true, "size": 24, "opacity": 1, "clip": true},
          "encoding": {
            "x": {"field": "d", "type": "quantitative",
              "axis": {"orient": "bottom", "values": [10, 30, 50, 70, 90, 110, 130], "labels": false, "domain": false, "tickSize": -2, "title": null}},
            "y": {"field": "v", "type": "quantitative",
              "axis": {"orient": "left", "values": [0.0025, 0.0075, 0.0125], "labels": false, "domain": false, "tickSize": -2, "title": null}},
            "color": {"field": "s", "type": "nominal", "legend": null}
          }
        }
      ]
    }
  ]
}
